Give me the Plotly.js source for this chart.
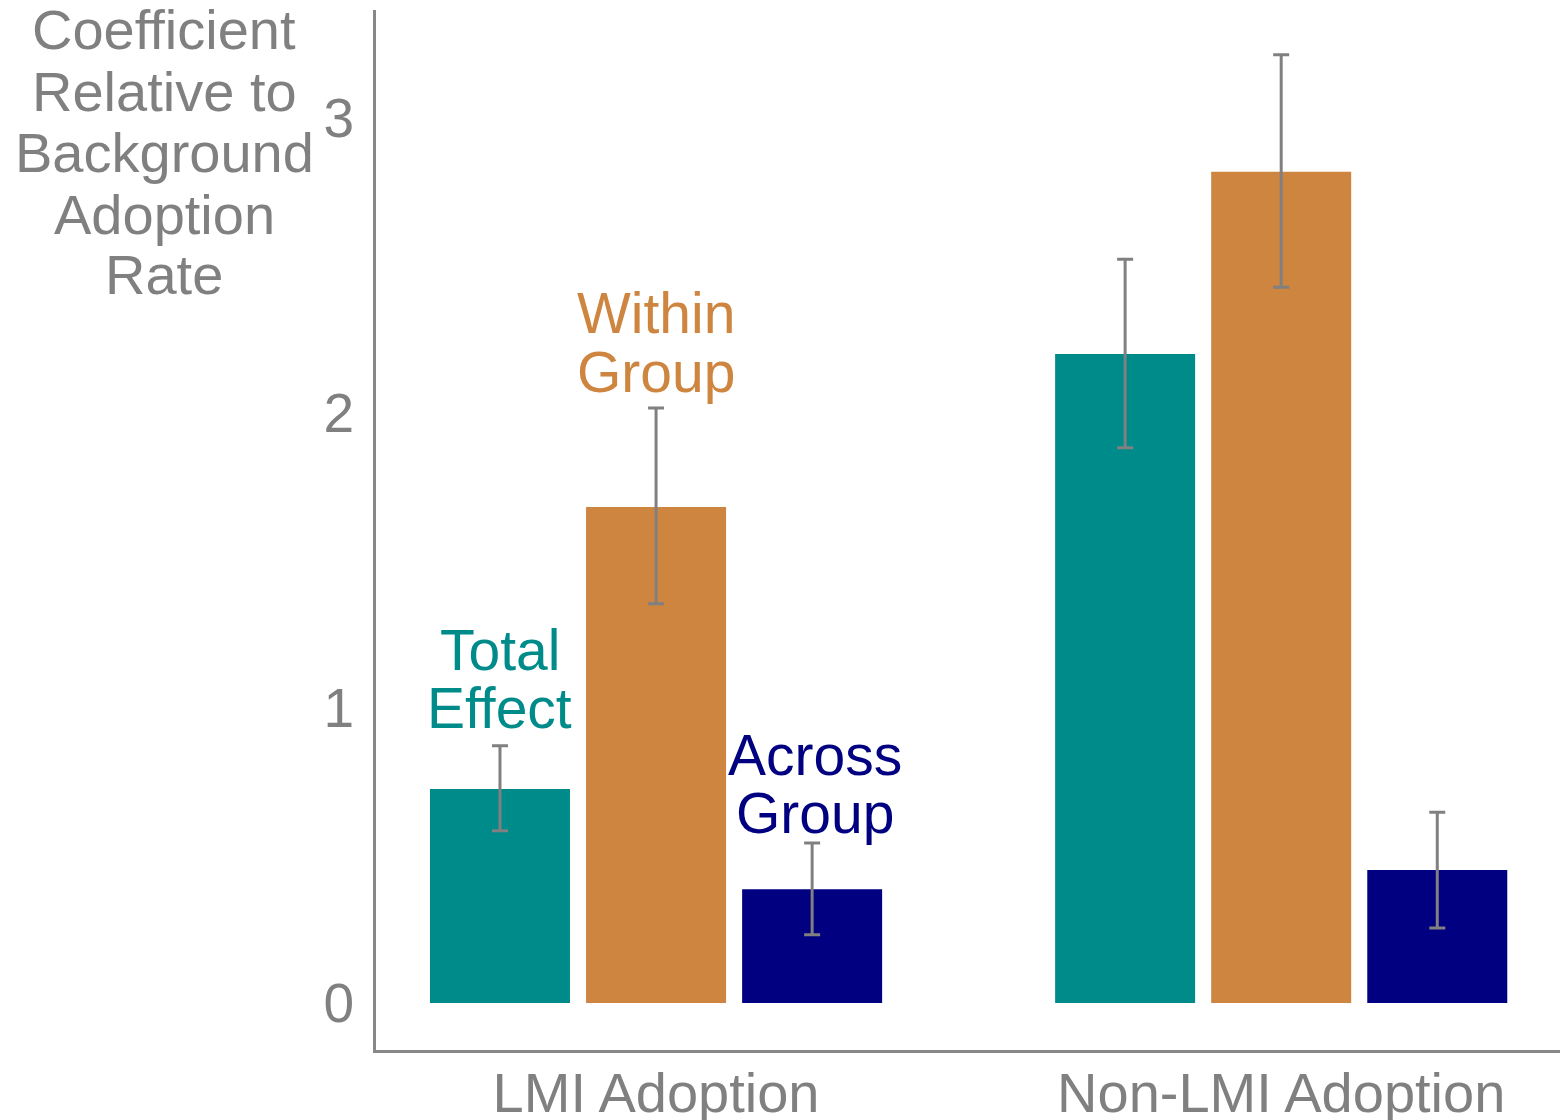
<!DOCTYPE html>
<html>
<head>
<meta charset="utf-8">
<script src="https://cdn.plot.ly/plotly-3.0.1.min.js"></script>
<style>
html,body{margin:0;padding:0;background:#fff;}
#chart{width:1564px;height:1120px;}
</style>
</head>
<body>
<div id="chart"></div>
<script>
const categories = ["LMI Adoption", "Non-LMI Adoption"];
const seriesNames = ["Total Effect", "Within Group", "Across Group"];

const totalValues = [0.725, 2.200];
const totalLow    = [0.584, 1.882];
const totalHigh   = [0.872, 2.521];

const withinValues = [1.681, 2.818];
const withinLow    = [1.353, 2.426];
const withinHigh   = [2.017, 3.214];

const acrossValues = [0.386, 0.451];
const acrossLow    = [0.231, 0.254];
const acrossHigh   = [0.542, 0.647];

const yTickValues = [0, 1, 2, 3];
const yTickLabels = ["0", "1", "2", "3"];
const yTitleLines = ["Coefficient", "Relative to", "Background", "Adoption", "Rate"];

const colors = ["#008B8B", "#CD853F", "#000080"];
const gray = "#808080";
const FONT = "Liberation Sans, Arial, Helvetica, sans-serif";

function mkTrace(name, vals, lo, hi, color) {
  return {
    type: "bar",
    name: name,
    x: [0, 1],
    y: vals,
    marker: {color: color, line: {width: 0}},
    error_y: {
      type: "data",
      symmetric: false,
      array: hi.map((h, i) => h - vals[i]),
      arrayminus: lo.map((l, i) => vals[i] - l),
      color: gray,
      thickness: 3,
      width: 8
    },
    hoverinfo: "skip"
  };
}

const data = [
  mkTrace(seriesNames[0], totalValues, totalLow, totalHigh, colors[0]),
  mkTrace(seriesNames[1], withinValues, withinLow, withinHigh, colors[1]),
  mkTrace(seriesNames[2], acrossValues, acrossLow, acrossHigh, colors[2])
];

const annotations = [];
// bar labels (one annotation per line)
const barLabels = [
  {lines: ["Total", "Effect"], x: -0.25, ys: [1.197, 1.0], color: colors[0]},
  {lines: ["Within", "Group"], x: 0.0, ys: [2.339, 2.139], color: colors[1]},
  {lines: ["Across", "Group"], x: 0.255, ys: [0.841, 0.644], color: colors[2]}
];
barLabels.forEach(b => {
  b.lines.forEach((t, i) => {
    annotations.push({
      text: t, x: b.x, y: b.ys[i], xref: "x", yref: "y",
      showarrow: false, xanchor: "center", yanchor: "middle",
      font: {family: FONT, size: 57, color: b.color}
    });
  });
});
// y axis title lines
const titleYs = [0.9808, 0.9212, 0.8625, 0.8038, 0.7452];
yTitleLines.forEach((t, i) => {
  annotations.push({
    text: t, x: -0.179, y: titleYs[i], xref: "paper", yref: "paper",
    showarrow: false, xanchor: "center", yanchor: "middle",
    font: {family: FONT, size: 56, color: gray}
  });
});

const layout = {
  width: 1564,
  height: 1120,
  margin: {l: 376, r: 4, t: 10, b: 70},
  paper_bgcolor: "#ffffff",
  plot_bgcolor: "#ffffff",
  showlegend: false,
  barmode: "group",
  bargap: 0.251,
  bargroupgap: 0.103,
  font: {family: FONT, color: gray},
  xaxis: {
    type: "linear",
    range: [-0.448, 1.446],
    tickvals: [0, 1],
    ticktext: categories,
    showgrid: false,
    zeroline: false,
    showline: true,
    linecolor: "#888888",
    linewidth: 3,
    ticks: "",
    ticklabelstandoff: -8,
    tickfont: {family: FONT, size: 56, color: gray}
  },
  yaxis: {
    range: [-0.1593, 3.366],
    tickvals: yTickValues,
    ticktext: yTickLabels,
    showgrid: false,
    zeroline: false,
    showline: true,
    linecolor: "#888888",
    linewidth: 3,
    ticks: "",
    ticklabelstandoff: 8,
    tickfont: {family: FONT, size: 55, color: gray}
  },
  annotations: annotations
};

Plotly.newPlot("chart", data, layout, {displayModeBar: false, staticPlot: true});
</script>
</body>
</html>
